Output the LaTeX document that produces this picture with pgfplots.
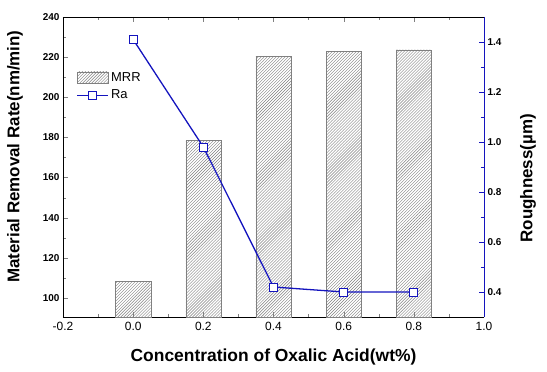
\documentclass[border=0pt]{standalone}
\usepackage{pgfplots}
\pgfplotsset{compat=1.18}
\usepackage{fontspec}
\setmainfont{Liberation Sans}
\usetikzlibrary{patterns}
\definecolor{rablue}{RGB}{20,20,190}
\begin{document}
\begin{tikzpicture}
\begin{axis}[name=ax1, scale only axis, width=421bp, height=300bp,
  xmin=-0.2, xmax=1.0, ymin=90.5, ymax=240,
  axis y line*=left,
  xtick={-0.2,0,0.2,0.4,0.6,0.8,1.0}, minor x tick num=1,
  ytick={100,120,...,240}, minor y tick num=1,
  xtick pos=both,
  tick align=inside,
  major tick length=5bp, minor tick length=3bp,
  /pgf/number format/assume math mode=true,
  xticklabel style={/pgf/number format/fixed, /pgf/number format/fixed zerofill, /pgf/number format/precision=1, font=\fontsize{12}{14}\selectfont, yshift=-2bp},
  yticklabel style={font=\fontsize{10}{12}\selectfont\bfseries},
  xlabel={Concentration of Oxalic Acid(wt\%)},
  xlabel style={at={(axis description cs:0.5,0)}, anchor=center, yshift=-40bp, font=\fontsize{17.5}{20}\selectfont\bfseries},
  ylabel={Material Removal Rate(nm/min)},
  ylabel style={at={(axis description cs:0,0.535)}, anchor=center, yshift=48bp, font=\fontsize{17}{20}\selectfont\bfseries},
  axis line style={black},
]
\addplot[ybar, bar width=0.1, bar shift=0pt, draw=gray, pattern=north east lines, pattern color=gray] coordinates {
  (0.0,108.1) (0.2,178.5) (0.4,220.4) (0.6,222.8) (0.8,223.7)
};
\end{axis}
\begin{axis}[name=ax2, scale only axis, width=421bp, height=300bp,
  xmin=-0.2, xmax=1.0, ymin=0.3, ymax=1.5,
  axis y line*=right, axis x line=none,
  ytick={0.4,0.6,...,1.41}, minor y tick num=1,
  tick align=inside,
  major tick length=5bp, minor tick length=3bp,
  y axis line style={rablue},
  ytick style={rablue},
  minor y tick style={rablue},
  /pgf/number format/assume math mode=true,
  yticklabel style={/pgf/number format/fixed, /pgf/number format/fixed zerofill, /pgf/number format/precision=1, font=\fontsize{10}{12}\selectfont\bfseries, black},
  ylabel={Roughness(\textmu m)},
  ylabel style={at={(axis description cs:1,0.462)}, anchor=center, yshift=-44bp, font=\fontsize{17}{20}\selectfont\bfseries},
  legend style={at={(axis description cs:0.03,0.825)}, anchor=north west, draw=none, fill=none, font=\fontsize{13}{15}\selectfont, row sep=3bp, inner sep=1bp},
  legend cell align=left,
]
\addlegendimage{legend image code/.code={\draw[draw=gray, pattern=north east lines, pattern color=gray] (0bp,-5bp) rectangle (31bp,6bp);}}
\addlegendentry{MRR}
\addlegendimage{legend image code/.code={\draw[rablue, line width=1.3pt] (0bp,0bp) -- (31bp,0bp); \draw[rablue, line width=1pt, fill=white] (11.5bp,-4bp) rectangle (19.5bp,4bp);}}
\addlegendentry{Ra}
\addplot[rablue, line width=1.3pt, mark=square*, mark size=4bp, mark options={fill=white, line width=1pt}] coordinates {
  (0.0,1.41) (0.2,0.98) (0.4,0.42) (0.6,0.40) (0.8,0.40)
};
\end{axis}
\pgfresetboundingbox
\path ([shift={(-63bp,-55bp)}]ax1.south west) rectangle ([shift={(63bp,17bp)}]ax1.north east);
\end{tikzpicture}
\end{document}
